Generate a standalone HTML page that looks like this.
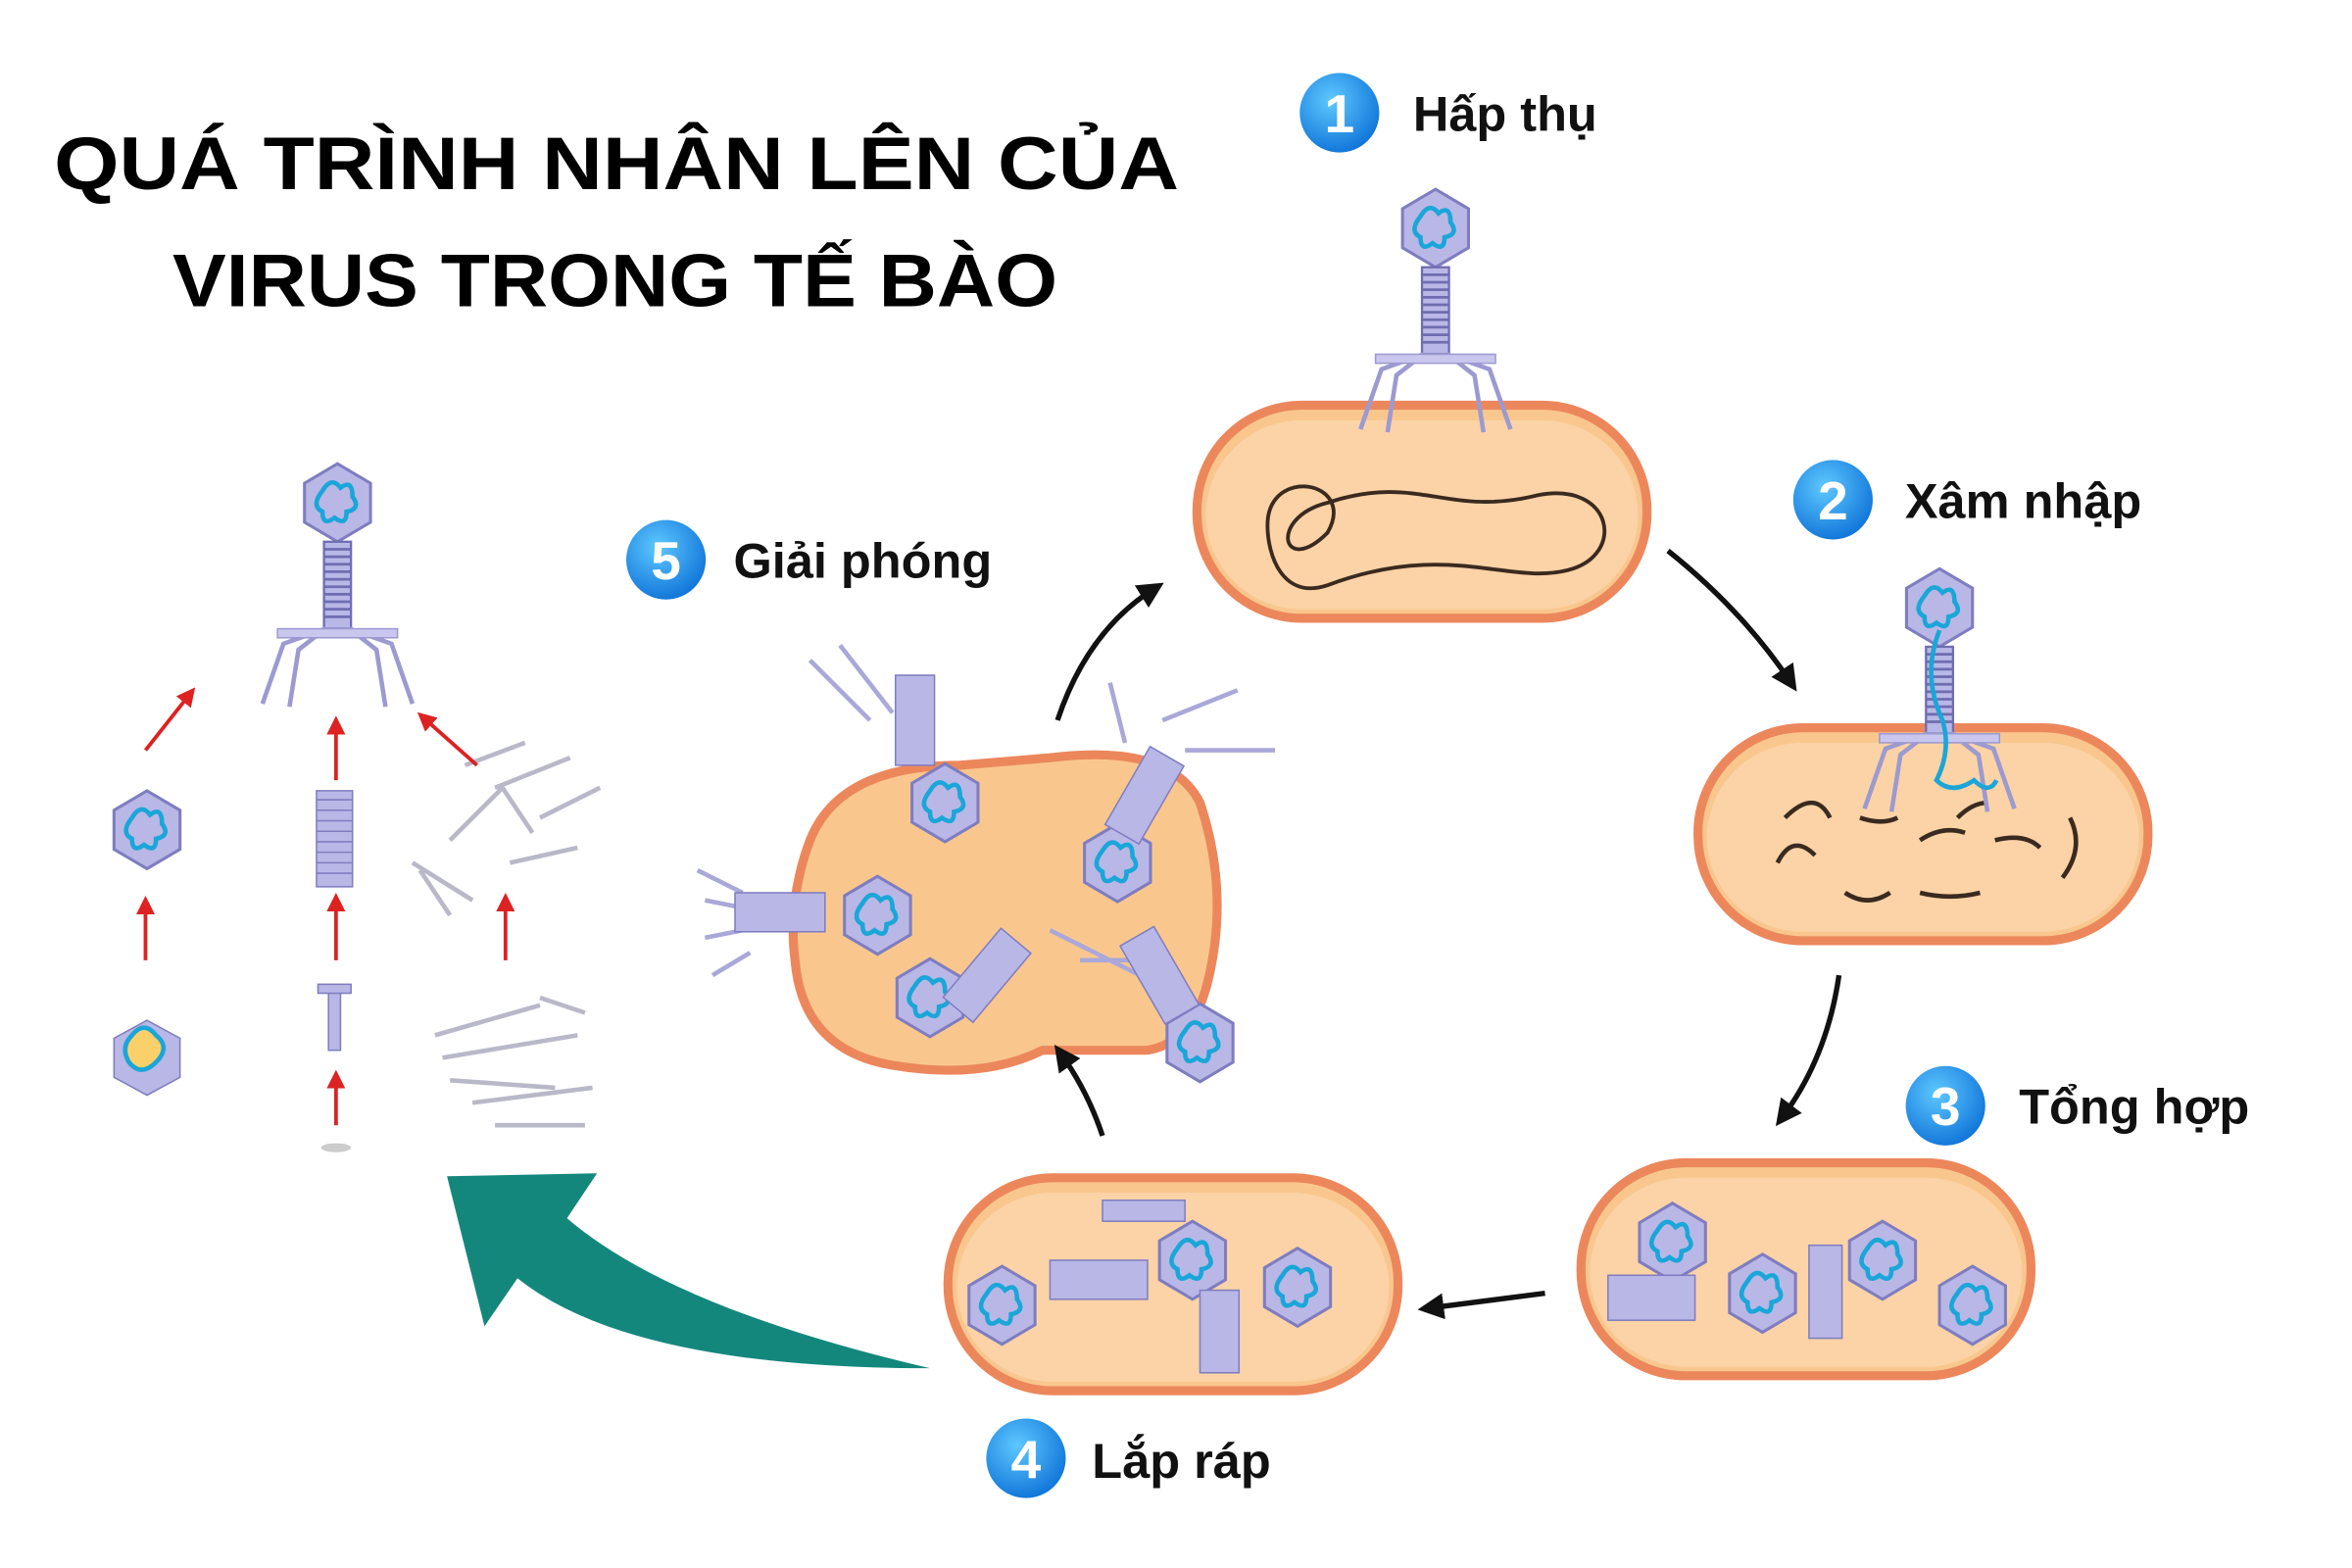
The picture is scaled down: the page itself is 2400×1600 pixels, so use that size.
<!DOCTYPE html>
<html><head><meta charset="utf-8"><style>
html,body{margin:0;padding:0;background:#fff;}
svg{display:block;}
text{font-family:"Liberation Sans","DejaVu Sans",sans-serif;font-weight:bold;}
</style></head><body>
<svg width="2400" height="1600" viewBox="0 0 1568 1045" xmlns="http://www.w3.org/2000/svg">
<defs>
<marker id="ah" viewBox="0 0 10 10" refX="6" refY="5" markerWidth="5" markerHeight="5" orient="auto"><path d="M0,0 L10,5 L0,10 z" fill="#111"/></marker>
<marker id="rh" viewBox="0 0 10 10" refX="6" refY="5" markerWidth="5" markerHeight="5" orient="auto"><path d="M0,0 L10,5 L0,10 z" fill="#d22"/></marker>
<radialGradient id="bc" cx="0.4" cy="0.35" r="0.7"><stop offset="0" stop-color="#5ec8ff"/><stop offset="1" stop-color="#0a6fd6"/></radialGradient>
<g id="head"><polygon points="0,-26 22,-13 22,13 0,26 -22,13 -22,-13" fill="#b9b7e6" stroke="#7f7dc0" stroke-width="2"/><path d="M-10,-8 q6,-10 12,-2 q8,-6 8,6 q6,8 -4,10 q0,10 -8,4 q-8,6 -8,-4 q-8,-4 0,-14z" fill="none" stroke="#1aa6d8" stroke-width="3"/></g>
<g id="phage"><use href="#head"/><rect x="-9" y="26" width="18" height="58" fill="#b9b7e6" stroke="#6f6db0" stroke-width="1.5"/><path d="M-9,31h18M-9,36h18M-9,41h18M-9,46h18M-9,51h18M-9,56h18M-9,61h18M-9,66h18M-9,71h18M-9,76h18" stroke="#6f6db0" stroke-width="1.8"/><path d="M-8,84 l-28,10 l-14,40 M-8,84 l-18,14 l-6,38 M8,84 l28,10 l14,40 M8,84 l18,14 l6,38" fill="none" stroke="#9c9ad0" stroke-width="3"/><rect x="-40" y="84" width="80" height="6" fill="#c9c7ee" stroke="#9c9ad0"/></g>
<g id="cell"><rect x="0" y="0" width="300" height="142" rx="70" fill="#f9c78e" stroke="#ec875c" stroke-width="6"/><rect x="6" y="10" width="288" height="126" rx="64" fill="#fbd3a6"/></g>
</defs>
<rect width="1568" height="1045" fill="#fff"/>

<text x="36" y="126" font-size="50" fill="#000" textLength="750" lengthAdjust="spacingAndGlyphs">QUÁ TRÌNH NHÂN LÊN CỦA</text>
<text x="115" y="204" font-size="50" fill="#000" textLength="590" lengthAdjust="spacingAndGlyphs">VIRUS TRONG TẾ BÀO</text>

<use href="#cell" x="798" y="270"/>
<path d="M845,350 c0,-40 60,-30 40,5 c-30,30 -40,-10 0,-20 c60,-20 80,10 140,-5 c50,-10 60,40 20,50 c-40,10 -80,-20 -160,10 c-30,10 -40,-20 -40,-40z" fill="none" stroke="#3a2a20" stroke-width="2.5"/>
<use href="#phage" x="957" y="152"/>

<use href="#cell" x="1132" y="485"/>
<path d="M1190,545 q20,-20 30,0 M1185,575 q10,-20 25,-5 M1240,545 q15,5 25,0 M1280,560 q15,-10 30,-5 M1230,595 q15,10 30,0 M1280,595 q20,5 40,0 M1330,560 q20,-5 30,5 M1380,545 q10,20 -5,40 M1305,545 q10,-10 20,-10" fill="none" stroke="#3a2a20" stroke-width="3"/>
<use href="#phage" x="1293" y="405"/>
<path d="M1293,420 q-12,30 2,60 q6,20 -4,40 q10,10 25,0 q10,10 15,0" fill="none" stroke="#1aa6d8" stroke-width="3"/>

<use href="#cell" x="1054" y="775"/>
<use href="#head" x="1115" y="828"/><use href="#head" x="1175" y="862"/><use href="#head" x="1255" y="840"/><use href="#head" x="1315" y="870"/>
<rect x="1072" y="850" width="58" height="30" fill="#b9b7e6" stroke="#7f7dc0"/><rect x="1206" y="830" width="22" height="62" fill="#b9b7e6" stroke="#7f7dc0"/>

<use href="#cell" x="632" y="785"/>
<use href="#head" x="668" y="870"/><use href="#head" x="795" y="840"/><use href="#head" x="865" y="858"/>
<rect x="700" y="840" width="65" height="26" fill="#b9b7e6" stroke="#7f7dc0"/><rect x="800" y="860" width="26" height="55" fill="#b9b7e6" stroke="#7f7dc0"/><rect x="735" y="800" width="55" height="14" fill="#b9b7e6" stroke="#7f7dc0"/>

<path d="M540,560 q20,-50 100,-50 l60,-5 q80,-10 100,30 q20,60 5,120 q-10,40 -40,45 l-70,0 q-40,20 -100,10 q-60,-10 -65,-70 q-5,-40 10,-80z" fill="#f9c78e" stroke="#ec875c" stroke-width="6"/>
<path d="M465,580 l30,15 M470,600 l25,5 M470,625 l25,-5 M475,650 l25,-15 M540,440 l40,40 M560,430 l35,45 M740,455 l10,40 M775,480 l50,-20 M790,500 l60,0 M700,620 l60,30 M720,640 l40,0" stroke="#aaa8d8" stroke-width="3"/>
<use href="#head" x="630" y="535"/><use href="#head" x="745" y="575"/><use href="#head" x="585" y="610"/><use href="#head" x="620" y="665"/><use href="#head" x="800" y="695"/>
<rect x="490" y="595" width="60" height="26" fill="#b9b7e6" stroke="#7f7dc0"/><rect x="597" y="450" width="26" height="60" fill="#b9b7e6" stroke="#7f7dc0"/><rect x="750" y="500" width="26" height="60" fill="#b9b7e6" stroke="#7f7dc0" transform="rotate(30 763 530)"/><rect x="645" y="620" width="26" height="60" fill="#b9b7e6" stroke="#7f7dc0" transform="rotate(40 658 650)"/><rect x="760" y="620" width="26" height="60" fill="#b9b7e6" stroke="#7f7dc0" transform="rotate(-30 773 650)"/>

<g fill="none" stroke="#111" stroke-width="3.5" marker-end="url(#ah)">
<path d="M1112,367 q50,40 82,88"/>
<path d="M1226,650 q-8,55 -38,95"/>
<path d="M1030,862 q-40,5 -78,10"/>
<path d="M735,757 q-10,-30 -28,-55"/>
<path d="M705,480 q20,-60 65,-88"/>
</g>
<path d="M620,912 q-200,0 -275,-60 l-22,32 l-25,-100 l100,-2 l-20,30 q70,60 242,100z" fill="#14877d"/>

<use href="#phage" x="225" y="335"/>
<use href="#head" x="98" y="553"/>
<path d="M76,692 l22,-12 l22,12 l0,26 l-22,12 l-22,-12z" fill="#b9b7e6" stroke="#7f7dc0"/><path d="M88,690 q8,-10 16,0 q10,8 0,18 q-10,10 -18,0 q-6,-10 2,-18z" fill="#fbd06a" stroke="#1aa6d8" stroke-width="3"/>
<rect x="211" y="527" width="24" height="64" fill="#b9b7e6" stroke="#7f7dc0"/>
<path d="M211,533h24M211,540h24M211,547h24M211,554h24M211,561h24M211,568h24M211,575h24M211,582h24" stroke="#7f7dc0"/>
<rect x="219" y="660" width="8" height="40" fill="#b9b7e6" stroke="#7f7dc0"/><rect x="212" y="656" width="22" height="6" fill="#b9b7e6" stroke="#7f7dc0"/>
<ellipse cx="224" cy="765" rx="10" ry="3" fill="#ccc"/>
<g stroke="#b8b8c8" stroke-width="3" fill="none"><path d="M310,510 l40,-15 M330,525 l50,-20 M300,560 l35,-35 l20,30 M360,545 l40,-20 M275,575 l40,25 M340,575 l45,-10 M300,610 l-20,-30"/><path d="M290,690 l70,-20 M295,705 l90,-15 M300,720 l70,5 M315,735 l80,-10 M330,750 l60,0 M360,665 l30,10"/></g>
<g stroke="#d22" stroke-width="2.5" marker-end="url(#rh)">
<line x1="97" y1="500" x2="127" y2="462"/><line x1="318" y1="510" x2="282" y2="478"/><line x1="224" y1="520" x2="224" y2="482"/>
<line x1="97" y1="640" x2="97" y2="602"/><line x1="224" y1="640" x2="224" y2="600"/><line x1="337" y1="640" x2="337" y2="600"/>
<line x1="224" y1="750" x2="224" y2="718"/>
</g>

<g font-size="33" fill="#111">
<circle cx="893" cy="75" r="28" fill="url(#bc)" stroke="#fff" stroke-width="3"/><text x="893" y="88" text-anchor="middle" fill="#fff" font-size="36">1</text><text x="942" y="87">Hấp thụ</text>
<circle cx="1222" cy="333" r="28" fill="url(#bc)" stroke="#fff" stroke-width="3"/><text x="1222" y="346" text-anchor="middle" fill="#fff" font-size="36">2</text><text x="1270" y="345">Xâm nhập</text>
<circle cx="1297" cy="737" r="28" fill="url(#bc)" stroke="#fff" stroke-width="3"/><text x="1297" y="750" text-anchor="middle" fill="#fff" font-size="36">3</text><text x="1346" y="749">Tổng hợp</text>
<circle cx="684" cy="972" r="28" fill="url(#bc)" stroke="#fff" stroke-width="3"/><text x="684" y="985" text-anchor="middle" fill="#fff" font-size="36">4</text><text x="728" y="985">Lắp ráp</text>
<circle cx="444" cy="373" r="28" fill="url(#bc)" stroke="#fff" stroke-width="3"/><text x="444" y="386" text-anchor="middle" fill="#fff" font-size="36">5</text><text x="489" y="385">Giải phóng</text>
</g>
</svg>
</body></html>
